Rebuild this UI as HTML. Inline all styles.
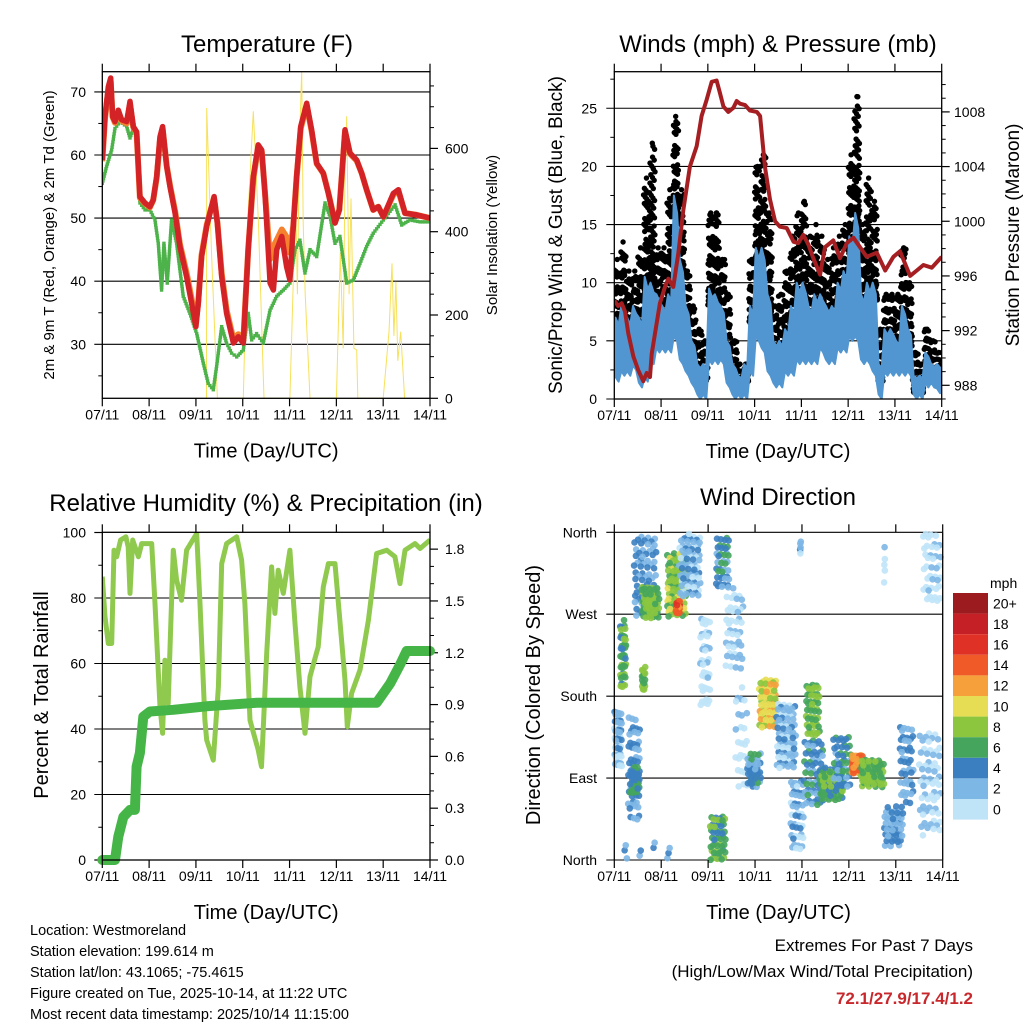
<!DOCTYPE html>
<html><head><meta charset="utf-8"><style>
html,body{margin:0;padding:0;background:#fff;}
svg{display:block;font-family:"Liberation Sans",Arial,sans-serif;}
</style></head><body>
<svg id="c" width="1024" height="1024" viewBox="0 0 1024 1024" xmlns="http://www.w3.org/2000/svg">
<defs>
<clipPath id="c1"><rect x="102.3" y="71.7" width="327.7" height="326.6"/></clipPath>
<clipPath id="c2"><rect x="614.3" y="71.7" width="327.4" height="327.3"/></clipPath>
<clipPath id="c3"><rect x="102.3" y="532.3" width="327.7" height="327.7"/></clipPath>
<clipPath id="c4"><rect x="610" y="528" width="336" height="336"/></clipPath>
</defs>
<g id="p1"></g>
<g id="p2"></g>
<g id="p3"></g>
<g id="p4"></g>
<g font-size="14.5" fill="#000">
<text x="30" y="935">Location: Westmoreland</text>
<text x="30" y="956">Station elevation: 199.614 m</text>
<text x="30" y="977">Station lat/lon: 43.1065; -75.4615</text>
<text x="30" y="998">Figure created on Tue, 2025-10-14, at 11:22 UTC</text>
<text x="30" y="1019">Most recent data timestamp: 2025/10/14 11:15:00</text>
</g>
<g text-anchor="end">
<text x="973" y="951" font-size="17">Extremes For Past 7 Days</text>
<text x="973" y="977" font-size="17">(High/Low/Max Wind/Total Precipitation)</text>
<text x="973" y="1004" font-size="17" font-weight="bold" fill="#c8282c">72.1/27.9/17.4/1.2</text>
</g>
</svg>
<script>
// ---- Temperature data ----
const tTime=[0,1.4,3.1,4.3,5.3,6.5,8.2,9.9,12.5,14.2,15.9,17.6,19.3,21.9,24.4,26.1,27.9,29.6,30.9,33,34.7,37.3,39.8,43.2,45.8,48,49.2,50.9,53.5,55.2,57.3,59,61.2,63.7,67.2,69.7,72.3,74.8,77.4,79.9,81.7,83.4,86,87.7,89.4,92,94.5,96.2,97.9,99.6,101.7,104.8,107.3,109.9,113.3,115.9,119.3,121.5,124.4,127,130.4,133,135.5,138.9,141.5,144.1,149.2,151.8,155.2,161.2,168];
const temp2m=[59.2,66.1,70.8,72.2,66.1,65.3,67.1,65.6,65.3,68.5,64.5,63.7,53.4,52.4,51.8,52.9,56.6,62.9,64.5,58.2,55.0,50.8,45.5,40.7,36.5,32.8,36.5,43.9,48.7,50.8,53.4,49.2,40.7,34.9,30.2,31.2,30.2,45.0,56.6,61.6,60.8,53.9,39.7,38.6,45.0,47.1,42.3,40.2,48.7,56.6,64.5,68.2,64.0,58.7,57.1,53.9,49.2,51.3,64.0,60.3,59.2,57.1,54.5,51.3,51.8,50.2,53.9,54.5,50.8,50.5,50.0];
const temp9m=[59.0,65.8,70.2,71.6,66.0,65.1,66.8,65.4,65.0,68.0,64.4,63.5,53.2,52.3,51.7,52.8,56.4,62.5,64.2,58.3,55.2,51.1,45.9,41.3,37.2,33.6,36.8,44.2,48.9,50.9,53.1,49.3,41.2,35.4,30.8,31.6,30.6,45.0,56.2,61.3,60.6,54.0,43.5,45.5,46.5,48.2,47.0,44.5,48.8,56.4,64.2,67.9,63.8,58.6,57.1,54.0,49.3,51.3,63.7,60.2,59.1,57.1,54.5,51.3,51.8,50.2,53.7,54.3,50.8,50.5,50.0];
const tdTime=[0,2.2,4.8,6.5,9.1,12.5,14.2,15.9,17.6,19.3,21.9,24.4,27,28.7,30.4,31.6,33.3,35.5,38.1,41.5,44.9,48.4,51.8,54.3,56.9,58.6,61.2,63.7,66.3,68.9,72.3,74.8,76.6,79.1,82.5,86,89.4,92.8,96.2,98.8,101.3,103.9,106.5,109.9,114.2,116.8,119.3,121.8,125.3,128.7,132.1,135.5,138.9,144.1,150.1,153.5,157.7,162.9,168];
const dewpt=[55.5,58.2,60.8,64.2,65.3,64.5,62.7,64.2,63.4,52.4,51.3,51.3,49.7,46.0,38.6,46.0,39.7,49.7,46.0,37.6,34.9,31.7,27.0,23.8,22.8,26.5,32.8,30.2,28.6,28.0,29.1,34.9,30.7,31.7,30.2,35.4,37.6,38.6,39.7,45.0,46.5,41.3,45.0,43.9,52.4,50.2,46.0,47.1,39.7,40.2,42.8,45.5,47.6,49.7,52.1,48.9,49.7,49.4,49.4];
const solTime=[53.4,53.5,56,59,72.3,74.5,77.4,80,82.9,96.2,98,99,100,101,102.2,103,104,106.5,120,122,123.5,124.5,125.3,126.5,127.5,129,130.4,131,144,147,148.5,149.5,150.5,151.5,153,155];
const solar=[0,697,350,0,0,420,689,430,0,0,300,520,250,600,785,420,250,0,0,350,120,560,677,250,480,120,116,0,0,160,324,150,280,90,160,0];
const tTicksL=[30,40,50,60,70];
const tTicksR=[0,200,400,600];
const dayLabels=["07/11","08/11","09/11","10/11","11/11","12/11","13/11","14/11"];
// ---- Wind / pressure data ----
const pTime=[0,2,3.8,5.5,7.2,9.8,12.3,14.9,16.6,18.3,19.2,20.9,23.4,26,27.7,30.3,32.9,35.4,38.8,42.3,44.8,47.4,50,52.5,54.2,56,58.5,61.1,62.8,64.5,67.1,69.6,73.1,74.8,77.3,79.9,82.5,85,88.5,92,94.4,97,99.6,102.1,105.6,108.1,112.4,115.8,119.3,122.7,126.1,129.5,134.7,139,143.2,146.6,151.8,155.2,158.6,162.9,168];
const pressure=[994.2,993.8,994.0,993.4,991.8,990.1,989.1,988.3,988.9,988.6,990.3,991.8,994.0,995.2,995.8,995.2,997.7,1000.8,1004.0,1005.5,1007.7,1008.9,1010.2,1010.3,1009.4,1008.4,1008.0,1008.3,1008.8,1008.6,1008.5,1008.1,1008.0,1007.7,1004.0,1001.6,1000.0,999.6,999.5,998.5,998.4,999.0,998.3,997.3,996.1,998.1,998.6,997.3,998.4,998.8,998.1,997.4,997.7,996.4,997.4,997.8,996.0,996.4,996.8,996.6,997.4];
const windLo=[1.5,2,2,2.5,1,1.5,3,4,4,4,5,3,2,1,0,0,3,3,3,1,0,0,0,2,5,4,2,1,1,2,2,3,3,3,3,4,3,3,4,4,5,5,3,3,2,0,2,2,2,2,2,0,0,1,1,0.5];
const windHi=[7,8,7,8,7,10.5,10,9,8,9,17.5,12,8,5,3,3,9.5,9,8,5,3,2,3,8,13,13,9,5,5,6,8,10,10,8,9,9,8,8,10,11,14,16,9,10,10,3,6,6,5,8,6,2,2,4,3,3];
const gustHi=[12,13.5,11,11,13,19,22,13,13,18,24.3,18,11,8,6,5,16,16,12,9,5,3,3,12,20,21,16,8,9,11,14,16,17,14,15,14,12,13,14,15,21,26,15,19,17,6,9,9,9,13,10,4,3,6,5,4];
const wTicksL=[0,5,10,15,20,25];
const pTicksR=[988,992,996,1000,1004,1008];
// ---- RH / precip data ----
const rhTime=[0,1.4,3.1,4.8,6,7.4,9.4,12.1,13.3,14.2,15.6,18.5,20.2,25.3,27,29.6,30.9,32.1,33.8,35,36.4,38.1,40.6,43.2,48.4,50.1,52.6,53.5,56.9,59.5,61.2,63.7,68.9,71.4,73.1,75.7,79.9,81.6,84.3,86.8,88.5,90.2,92.8,96.2,98.8,101.3,103.9,106.5,110.7,113.3,115.9,119.3,124.4,125.6,127.8,132.1,136.4,140.6,145.8,150,152.6,155.2,160.3,162.9,168];
const rh=[86.5,74.3,66.1,66.1,94.6,92.6,97.7,98.7,95.6,81.4,97.7,92.6,96.6,96.6,78.3,46.8,38.7,61.0,47.8,70.2,94.6,85.5,79.3,94.6,99.7,78.3,42.7,36.6,30.5,52.9,90.5,96.6,98.7,91.6,78.3,42.7,33.6,28.5,63.1,89.5,75.3,88.5,81.4,94.6,72.2,52.9,38.7,56.0,65.1,83.4,90.5,90.5,54.9,40.7,50.9,58.0,73.2,93.6,94.6,92.6,84.4,94.6,96.6,95.1,97.7];
const prTime=[0,6.5,8.2,10.8,14.2,16.7,17.6,19.3,21,24.4,36.4,53.5,79.1,113.3,140.6,147.5,152.6,156,168];
const precip=[0,0,0.135,0.25,0.29,0.29,0.54,0.62,0.83,0.86,0.87,0.89,0.91,0.91,0.91,1.02,1.13,1.21,1.21];
const rhTicksL=[0,20,40,60,80,100];
const prTicksR=["0.0","0.3","0.6","0.9","1.2","1.5","1.8"];
// ---- Wind direction clusters (hours, degrees, mph) ----
const dirStart=[0,3,7,8,14,10,14,27,31.5,33,44,49,52,57,62,68,74,83,90,98,97,105,112,121,126,138,146,156,158,95,138,5];
const dirEnd=[4,6,13,13,16,22,23,37,33.5,44,49,57,59,66,68,75,83,93,97,105,107,117,121,127,138,148,153,167,167,95.5,138.5,34];
const dirLow=[103,190,44,70,187,264,264,267,270,290,168,0,300,210,80,80,143,99,7,135,59,66,80,95,80,15,62,26,278,335,300,0];
const dirHigh=[168,264,157,102,212,355,300,337,285,359,271,51,359,300,190,117,198,172,88,194,135,102,139,117,110,59,146,139,359,350,345,20];
const dirSpeed=[3,7,4,6,8,4,8,9,15,3,1,7,5,2,1,5,11,3,3,8,5,7,5,14,8,4,4,2,1,3,1,4];
const dirCount=[45,45,50,35,15,70,55,90,18,70,40,50,40,45,25,40,70,70,45,50,55,70,45,35,70,45,45,60,40,6,5,10];
const dirLabels=["North","East","South","West","North"];
const cbLabels=["20+","18","16","14","12","10","8","6","4","2","0"];
const cbColors=["#9b1b1e","#c42026","#e03127","#f05a28","#f6a03c","#e7dd54","#8cc63f","#45a55c","#3b7fc1","#7db7e6","#bfe4f8"];

const NS="http://www.w3.org/2000/svg";
function mk(parent,tag,attrs,txt){const e=document.createElementNS(NS,tag);for(const k in attrs)e.setAttribute(k,attrs[k]);if(txt!==undefined)e.textContent=txt;parent.appendChild(e);return e;}
function frac(v){return v-Math.floor(v);}
const G1=0.7548776662, G2=0.5698402910;

function frame(g,L,R,T,B,nm){
  const r=mk(g,'rect',{x:L,y:T,width:R-L,height:B-T,fill:'none',stroke:'#000','stroke-width':1.3});
  
  
}
function xAxis(g,L,R,T,B,nm){
  for(let i=0;i<8;i++){
    const x=L+(R-L)*i/7;
    mk(g,'line',{x1:x,x2:x,y1:B,y2:B+8,stroke:'#000','stroke-width':1.2});
    mk(g,'line',{x1:x,x2:x,y1:T,y2:T-8,stroke:'#000','stroke-width':1.2});
    const t=mk(g,'text',{x:x,y:B+21,'font-size':14,'text-anchor':'middle'},dayLabels[i]);
    
    
  }
  const tt=mk(g,'text',{x:(L+R)/2,y:B+59,'font-size':20,'text-anchor':'middle'},'Time (Day/UTC)');
  
  
}
function grid(g,L,R,y){mk(g,'line',{x1:L-8,x2:R,y1:y,y2:y,stroke:'#000','stroke-width':1.1});}
function path(pts){return pts.map((p,i)=>(i?'L':'M')+p[0].toFixed(1)+' '+p[1].toFixed(1)).join('');}

// ================= Panel 1 =================
(function(){
  const g=document.getElementById('p1');
  const L=102.3,R=430,T=71.7,B=398.3;
  const X=h=>L+h*(R-L)/168, Y=v=>344.3-(v-30)*6.31, YS=w=>B-w*0.4165;
  const ti=mk(g,'text',{x:267,y:52,'font-size':24,'text-anchor':'middle'},'Temperature (F)');
  
  
  tTicksL.forEach(v=>{grid(g,L,R,Y(v));const t=mk(g,'text',{x:86,y:Y(v)+5,'font-size':14,'text-anchor':'end'},String(v));});
  for(let v=25;v<=70;v+=5){if(v%10)mk(g,'line',{x1:L-4,x2:L,y1:Y(v),y2:Y(v),stroke:'#000'});}
  tTicksR.forEach(v=>{mk(g,'line',{x1:R,x2:R+8,y1:YS(v),y2:YS(v),stroke:'#000','stroke-width':1.2});const t=mk(g,'text',{x:445,y:YS(v)+5,'font-size':14},String(v));});
  for(let v=50;v<=750;v+=50){if(v%200)mk(g,'line',{x1:R,x2:R+4,y1:YS(v),y2:YS(v),stroke:'#000'});}
  const cg=mk(g,'g',{'clip-path':'url(#c1)'});
  const sl=mk(cg,'path',{d:path(solTime.map((h,i)=>[X(h),YS(solar[i])])),fill:'none',stroke:'#f7e15a','stroke-width':1});
  
  
  const dg=mk(cg,'g',{fill:'#4db24a'});
  
  
  for(let i=0;i<tdTime.length-1;i++){
    const x0=X(tdTime[i]),y0=Y(dewpt[i]),x1=X(tdTime[i+1]),y1=Y(dewpt[i+1]);
    const n=Math.max(1,Math.round(Math.hypot(x1-x0,y1-y0)/2.6));
    for(let k=0;k<n;k++){const f=k/n;
      const d=mk(dg,'rect',{x:x0+f*(x1-x0)-1.7,y:y0+f*(y1-y0)-1.7,width:3.4,height:3.4});
      
      }
  }
  const o=mk(cg,'path',{d:path(tTime.map((h,i)=>[X(h),Y(temp9m[i])])),fill:'none',stroke:'#f5812f','stroke-width':6,'stroke-linejoin':'round'});
  
  
  const r=mk(cg,'path',{d:path(tTime.map((h,i)=>[X(h),Y(temp2m[i])])),fill:'none',stroke:'#d42327','stroke-width':5.5,'stroke-linejoin':'round'});
  
  
  frame(g,L,R,T,B,'temperature');
  xAxis(g,L,R,T,B,'temperature');
  const yl=mk(g,'text',{transform:'translate(54,235) rotate(-90)','font-size':15,'text-anchor':'middle'},'2m & 9m T (Red, Orange) & 2m Td (Green)');
  
  
  const yr=mk(g,'text',{transform:'translate(497,235) rotate(-90)','font-size':15,'text-anchor':'middle'},'Solar Insolation (Yellow)');
  
  
})();

// ================= Panel 2 =================
(function(){
  const g=document.getElementById('p2');
  const L=614.3,R=941.7,T=71.7,B=399;
  const X=h=>L+h*(R-L)/168, Y=v=>B-v*11.63, YP=p=>385.3-(p-988)*13.67;
  const ti=mk(g,'text',{x:778,y:52,'font-size':24,'text-anchor':'middle'},'Winds (mph) & Pressure (mb)');
  
  
  wTicksL.forEach(v=>{grid(g,L,R,Y(v));const t=mk(g,'text',{x:597,y:Y(v)+5,'font-size':14,'text-anchor':'end'},String(v));});
  for(let v=2.5;v<28;v+=5)mk(g,'line',{x1:L-4,x2:L,y1:Y(v),y2:Y(v),stroke:'#000'});
  pTicksR.forEach(v=>{mk(g,'line',{x1:R,x2:R+8,y1:YP(v),y2:YP(v),stroke:'#000','stroke-width':1.2});const t=mk(g,'text',{x:954,y:YP(v)+5,'font-size':14},String(v));});
  for(let v=987;v<=1010;v++){if(v%4)mk(g,'line',{x1:R,x2:R+4,y1:YP(v),y2:YP(v),stroke:'#000'});}
  const cg=mk(g,'g',{'clip-path':'url(#c2)'});
  const bk=mk(cg,'g',{fill:'#000'});
  
  
  const n=windLo.length;
  for(let i=0;i<n;i++){
    const h0=i*3,base=windHi[i]-1.5,rng=gustHi[i]-base;const cnt=Math.round(14+rng*5);
    for(let j=0;j<cnt;j++){
      const fx=frac(0.5+j*G1+i*0.13),fy=frac(0.5+j*G2+i*0.29);
      const v=base+rng*Math.pow(fy,1.8);
      const c=mk(bk,'circle',{cx:X(h0+3*fx),cy:Y(v),r:2.7});
      
      
    }
    const c=mk(bk,'circle',{cx:X(h0+1.5),cy:Y(gustHi[i]),r:2.7});
    
    
  }
  const top=[],bot=[];
  for(let i=0;i<n;i++){
    top.push([X(i*3+0.6),Y(windHi[i])]);top.push([X(i*3+2.2),Y(windHi[i]*0.88+windLo[i]*0.12)]);
    bot.push([X(i*3+0.6),Y(windLo[i]+0.4)]);bot.push([X(i*3+2.2),Y(windLo[i])]);
  }
  const bl=mk(cg,'path',{d:path(top.concat(bot.reverse()))+'Z',fill:'#5196d0',stroke:'#5196d0','stroke-width':2,'stroke-linejoin':'round'});
  
  
  const pl=mk(cg,'path',{d:path(pTime.map((h,i)=>[X(h),YP(pressure[i])])),fill:'none',stroke:'#a51f22','stroke-width':4,'stroke-linejoin':'round'});
  
  
  frame(g,L,R,T,B,'winds');
  xAxis(g,L,R,T,B,'winds');
  const yl=mk(g,'text',{transform:'translate(562,235) rotate(-90)','font-size':19,'text-anchor':'middle'},'Sonic/Prop Wind & Gust (Blue, Black)');
  
  
  const yr=mk(g,'text',{transform:'translate(1019,235) rotate(-90)','font-size':19,'text-anchor':'middle'},'Station Pressure (Maroon)');
  
  
})();

// ================= Panel 3 =================
(function(){
  const g=document.getElementById('p3');
  const L=102.3,R=430,T=532.3,B=860;
  const X=h=>L+h*(R-L)/168, Y=v=>B-v*3.275, YP=p=>B-p*172.7;
  const ti=mk(g,'text',{x:266,y:511,'font-size':24,'text-anchor':'middle'},'Relative Humidity (%) & Precipitation (in)');
  
  
  rhTicksL.forEach(v=>{if(v>0&&v<100)grid(g,L,R,Y(v));else mk(g,'line',{x1:L-8,x2:L,y1:Y(v),y2:Y(v),stroke:'#000','stroke-width':1.2});const t=mk(g,'text',{x:86,y:Y(v)+5,'font-size':14,'text-anchor':'end'},String(v));});
  for(let v=10;v<100;v+=20)mk(g,'line',{x1:L-4,x2:L,y1:Y(v),y2:Y(v),stroke:'#000'});
  prTicksR.forEach(s=>{const v=parseFloat(s);mk(g,'line',{x1:R,x2:R+8,y1:YP(v),y2:YP(v),stroke:'#000','stroke-width':1.2});const t=mk(g,'text',{x:445,y:YP(v)+5,'font-size':14},s);});
  for(let k=1;k<18;k++){if(k%3){const v=k*0.1;mk(g,'line',{x1:R,x2:R+4,y1:YP(v),y2:YP(v),stroke:'#000'});}}
  const cg=mk(g,'g',{'clip-path':'url(#c3)'});
  const rl=mk(cg,'path',{d:path(rhTime.map((h,i)=>[X(h),Y(rh[i])])),fill:'none',stroke:'#8fca4e','stroke-width':5,'stroke-linejoin':'round'});
  
  
  const pl=mk(g,'path',{d:path(prTime.map((h,i)=>[X(h),YP(precip[i])])),fill:'none',stroke:'#46b548','stroke-width':10,'stroke-linejoin':'round','stroke-linecap':'round'});
  
  
  frame(g,L,R,T,B,'humidity');
  xAxis(g,L,R,T,B,'humidity');
  const yl=mk(g,'text',{transform:'translate(48,695) rotate(-90)','font-size':20,'text-anchor':'middle'},'Percent & Total Rainfall');
  
  
})();

// ================= Panel 4 =================
(function(){
  const g=document.getElementById('p4');
  const L=614.3,R=942.7,T=532.3,B=860;
  const X=h=>L+h*(R-L)/168, Y=d=>B-d*(B-T)/360;
  const ti=mk(g,'text',{x:778,y:505,'font-size':24,'text-anchor':'middle'},'Wind Direction');
  
  
  dirLabels.forEach((s,i)=>{const y=Y(i*90);grid(g,L,R,y);const t=mk(g,'text',{x:597,y:y+5,'font-size':14,'text-anchor':'end'},s);});
  const colorFor=s=>{let k=Math.min(10,Math.floor(s/2));return cbColors[10-k];};
  const cg=mk(g,'g',{'clip-path':'url(#c4)'});
  for(let c=0;c<dirStart.length;c++){
    for(let j=0;j<dirCount[c];j++){
      const fx=frac(0.5+j*G1+c*0.21),fy=frac(0.5+j*G2+c*0.13),fs=frac(0.3+j*0.4142+c*0.37);
      const h=dirStart[c]+(dirEnd[c]-dirStart[c])*fx;
      const d=dirLow[c]+(dirHigh[c]-dirLow[c])*fy;
      const sp=Math.max(0,dirSpeed[c]+(fs-0.5)*4);
      const p=mk(cg,'circle',{cx:X(h),cy:Y(d),r:3.3,fill:colorFor(sp),'fill-opacity':0.9});
      
      
    }
  }
  mk(g,'line',{x1:L,x2:L,y1:T,y2:B,stroke:'#000','stroke-width':1.3});
  mk(g,'line',{x1:R,x2:R,y1:T,y2:B,stroke:'#000','stroke-width':1.3});
  xAxis(g,L,R,T,B,'wind-direction');
  const yl=mk(g,'text',{transform:'translate(540,695) rotate(-90)','font-size':20,'text-anchor':'middle'},'Direction (Colored By Speed)');
  
  
  const cb=mk(g,'g',{});
  
  
  const mt=mk(cb,'text',{x:990,y:588,'font-size':14},'mph');
  
  
  const bh=20.6;
  cbColors.forEach((col,i)=>{
    const r=mk(cb,'rect',{x:953,y:593+i*bh,width:35,height:bh,fill:col});
    
    
    const t=mk(cb,'text',{x:993,y:593+i*bh+bh/2+5,'font-size':14},cbLabels[i]);
    
    
  });
})();
</script>
</body></html>
